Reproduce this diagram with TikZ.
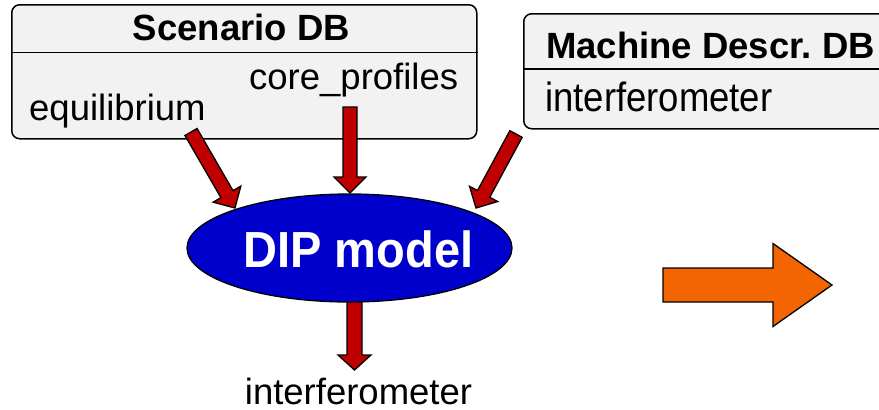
\documentclass[tikz,border=0pt]{standalone}
\usepackage{fontspec}
\setmainfont{Liberation Sans}
\usetikzlibrary{calc,shapes.geometric}
\frenchspacing
\definecolor{boxfill}{HTML}{F2F2F2}
\definecolor{arrred}{HTML}{C00000}
\definecolor{dipblue}{HTML}{0000CC}
\definecolor{bigorange}{HTML}{F26500}
\tikzset{
  dbbox/.style={draw=black, line width=1.5pt, fill=boxfill, rounded corners=8pt, inner sep=0pt},
  divider/.style={draw=black, line width=1.3pt},
  lbl/.style={inner sep=0pt, font=\fontsize{36.5}{40}\selectfont},
  ttl/.style={inner sep=0pt, font=\fontsize{36.5}{40}\selectfont\bfseries},
  redarrow/.style={draw=black, line width=1.3pt, fill=arrred, line join=miter},
  orangearrow/.style={draw=black, line width=1.3pt, fill=bigorange, line join=miter},
}
% #1 style, #2 shaft half width, #3 head length, #4 head half width, #5 from, #6 to
\newcommand\blockarr[6]{%
  \coordinate (ba-h) at ($(#6)!#3!(#5)$);
  \draw[#1] ($(#5)!#2!90:(#6)$) -- ($(ba-h)!#2!90:(#6)$) -- ($(ba-h)!#4!90:(#6)$)
    -- (#6) -- ($(ba-h)!#4!-90:(#6)$) -- ($(ba-h)!#2!-90:(#6)$) -- ($(#5)!#2!-90:(#6)$) -- cycle;}
\begin{document}
\begin{tikzpicture}[x=1pt,y=1pt]
\useasboundingbox (0,0) rectangle (879,-410);
\clip (0,0) rectangle (879,-410);
% Scenario DB
\node[dbbox, anchor=north west, minimum width=465pt, minimum height=134pt] (scen) at (11,-4) {};
\draw[divider] ($(scen.north west)+(0,-48.5)$) -- ($(scen.north east)+(0,-48.5)$);
\node[ttl, anchor=base] (scentitle) at (241.5,-40) {Scenario DB};
\node[lbl, anchor=base west] (core) at (249,-89) {core\_profiles};
\node[lbl, anchor=base west] (equi) at (29,-120) {equilibrium};
% Machine Descr. DB
\node[dbbox, anchor=north west, minimum width=380pt, minimum height=115pt] (mach) at (523,-13) {};
\draw[divider] ($(mach.north west)+(0,-56)$) -- ($(mach.north east)+(0,-56)$);
\node[ttl, anchor=base west] (machtitle) at (546,-58) {Machine Descr. DB};
\node[lbl, anchor=base west, yscale=1.12] (machif) at (545,-111) {interferometer};
% arrow end points
\coordinate (aL0) at (191,-132);
\coordinate (aL1) at (235,-208);
\coordinate (aM0) at (350,-107);
\coordinate (aM1) at (350,-193);
\coordinate (aR0) at (516,-134);
\coordinate (aR1) at (476,-208);
\coordinate (aB0) at (354.5,-285);
\coordinate (aB1) at (354.5,-370);
\blockarr{redarrow}{7pt}{16pt}{16pt}{aL0}{aL1}
\blockarr{redarrow}{7pt}{16pt}{16pt}{aM0}{aM1}
\blockarr{redarrow}{7pt}{16pt}{16pt}{aR0}{aR1}
\blockarr{redarrow}{7.5pt}{15pt}{16.5pt}{aB0}{aB1}
% DIP model
\node[ellipse, draw=black, line width=1.3pt, fill=dipblue, minimum width=325pt, minimum height=108pt, inner sep=0pt] (dip) at (349.5,-248) {};
\node[inner sep=0pt, anchor=base, text=white, yscale=1.08, font=\fontsize{47}{50}\selectfont\bfseries] (diptext) at (358.5,-267) {DIP model};
\node[lbl, anchor=base] (outif) at (358.5,-404) {interferometer};
% orange arrow
\coordinate (oA0) at (663,-285);
\coordinate (oA1) at (832,-285);
\blockarr{orangearrow}{17pt}{59pt}{41.5pt}{oA0}{oA1}
\end{tikzpicture}
\end{document}
